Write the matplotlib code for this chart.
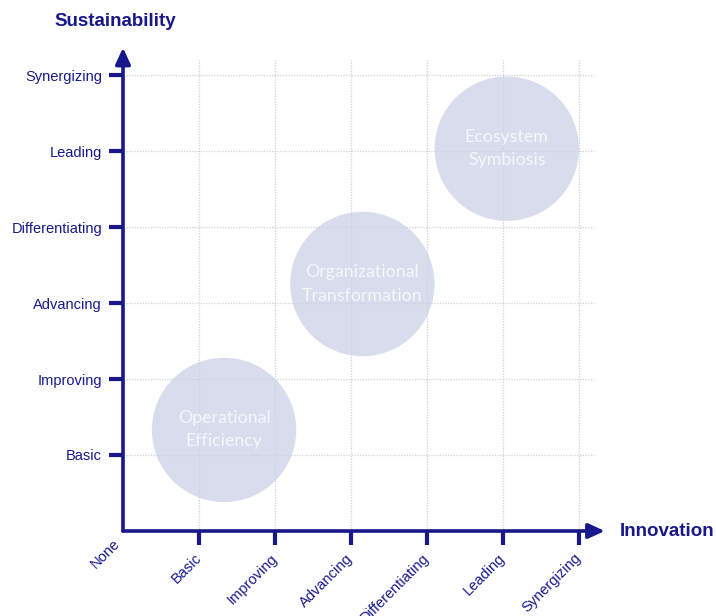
import matplotlib
matplotlib.use("Agg")
import matplotlib.pyplot as plt
from matplotlib.patches import Circle
from matplotlib.transforms import ScaledTranslation

# ---- data ----
levels = ["None", "Basic", "Improving", "Advancing", "Differentiating", "Leading", "Synergizing"]
bubble_labels = ["Operational\nEfficiency", "Organizational\nTransformation", "Ecosystem\nSymbiosis"]
bubble_innovation = [1.33, 3.15, 5.05]
bubble_sustainability = [1.33, 3.25, 5.03]

NAVY = "#18188a"
BUBBLE = "#d2d6ea"
GRID = "#cdcfdb"
RADIUS = 0.95

W, H = 716, 616
fig = plt.figure(figsize=(W / 100, H / 100), dpi=100)
fig.patch.set_facecolor("white")

ppu = 76.0
x0, y0 = 123, 531
lim = 6.5
ax = fig.add_axes([x0 / W, (H - y0) / H, lim * ppu / W, lim * ppu / H])
ax.set_xlim(0, lim)
ax.set_ylim(0, lim)
for s in ax.spines.values():
    s.set_visible(False)

n = len(levels)
# grid
for i in range(1, n):
    ax.plot([i, i], [0, 6.2], color=GRID, lw=0.9, ls=(0, (1, 1.2)), zorder=2)
    ax.plot([0, 6.2], [i, i], color=GRID, lw=0.9, ls=(0, (1, 1.2)), zorder=2)

# bubbles
for bx, by, lab in zip(bubble_innovation, bubble_sustainability, bubble_labels):
    ax.add_patch(Circle((bx, by), RADIUS, facecolor=BUBBLE, edgecolor="none", alpha=0.85, zorder=1))
    ax.text(bx, by, lab, ha="center", va="center", color="#f6f7fb", fontsize=12.8,
            family="Lato", linespacing=1.55, zorder=3)

# axes arrows
arrow_style = "-|>,head_length=0.7,head_width=0.32"
ax.annotate("", xy=(6.34, 0), xytext=(0, 0),
            arrowprops=dict(arrowstyle=arrow_style, color=NAVY, lw=2.6, mutation_scale=14,
                            shrinkA=0, shrinkB=0), annotation_clip=False, zorder=5)
ax.annotate("", xy=(0, 6.36), xytext=(0, 0),
            arrowprops=dict(arrowstyle=arrow_style, color=NAVY, lw=2.6, mutation_scale=14,
                            shrinkA=0, shrinkB=0), annotation_clip=False, zorder=5)

# ticks
ax.set_xticks(range(n))
ax.set_xticklabels(levels, rotation=45, ha="right", rotation_mode="anchor",
                   fontsize=10.5, color=NAVY, family="Liberation Sans")
ax.set_yticks(range(1, n))
ax.set_yticklabels(levels[1:], fontsize=10.5, color=NAVY, family="Liberation Sans")
ax.tick_params(axis="x", direction="out", length=10, width=3, color=NAVY, pad=3)
ax.tick_params(axis="y", direction="out", length=10, width=3, color=NAVY, pad=5)
ax.xaxis.get_major_ticks()[0].tick1line.set_visible(False)

# shift the x labels slightly left; "None" sits higher (no tick mark)
xlabels = ax.get_xticklabels()
for k, t in enumerate(xlabels):
    if k == 0:
        dx, dy = -10, 13
    else:
        dx, dy = -5, -2
    t.set_transform(t.get_transform() + ScaledTranslation(dx / 100, dy / 100, fig.dpi_scale_trans))

# axis titles
fig.text(115 / W, 1 - 22 / H, "Sustainability", ha="center", va="center",
         fontsize=13.5, fontweight="bold", color=NAVY, family="Liberation Sans")
fig.text(620 / W, 1 - 531 / H, "Innovation", ha="left", va="center",
         fontsize=13.5, fontweight="bold", color=NAVY, family="Liberation Sans")

fig.savefig("out.png", dpi=100, facecolor="white")
